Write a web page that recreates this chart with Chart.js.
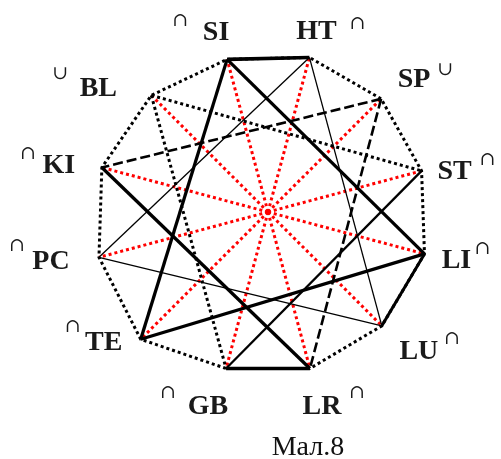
<!DOCTYPE html>
<html>
<head>
<meta charset="utf-8">
<script src="https://cdn.jsdelivr.net/npm/chart.js@4.4.0/dist/chart.umd.min.js"></script>
<style>
  html, body { margin: 0; padding: 0; background: #fff; }
  #wrap { position: relative; width: 501px; height: 459px; }
  #caption {
    position: absolute; left: 208px; top: 432px; width: 200px;
    text-align: center; font: 28px/1 "Liberation Serif", serif; color: #111;
  }
</style>
</head>
<body>
<div id="wrap">
  <canvas id="diagram"></canvas>
  <div id="caption">Мал.8</div>
</div>
<script>
// вершини (за годинниковою стрілкою від SI) та позначки біля них
const names = ['SI', 'HT', 'SP', 'ST', 'LI', 'LU', 'LR', 'GB', 'TE', 'PC', 'KI', 'BL'];
const marks = ['∩', '∩', '∪', '∩', '∩', '∩', '∩', '∩', '∩', '∩', '∩', '∪'];
// відстань вершини від центру (малюнок трохи неправильний)
const vertexRadius = [158, 160, 160, 159, 162, 161, 162, 162, 180, 175, 172, 165];

// сторони многокутника, що не пунктирні
const thickEdges = [['SI', 'HT'], ['LR', 'GB']];
const mediumEdges = [['LI', 'LU']];

// хорди
const thickChords = [['SI', 'TE'], ['SI', 'LI'], ['KI', 'LR'], ['TE', 'LI']];
const mediumChords = [['GB', 'ST']];
const thinChords = [['HT', 'PC'], ['HT', 'LU'], ['PC', 'LU']];
const dashedChords = [['SP', 'KI'], ['SP', 'LR']];
const dottedChords = [['BL', 'ST'], ['BL', 'GB']];

// зсув підпису від вершини і значка від підпису
const labelOffsets = [[-11, -28], [7, -27], [33, -20], [33, 0], [32, 6], [37, 25],
                      [12, 37], [-18, 37], [-37, 2], [-48, 3], [-43, -3], [-53, -8]];
const markOffsets = [[-36, -10], [41, -6], [31, -9], [33, -11], [26, -11], [33, -12],
                     [35, -12], [-40, -12], [-31, -14], [-34, -14], [-31, -10], [-38, -13]];

function vertex(scale, name) {
    const i = names.indexOf(name);
    return scale.getPointPositionForValue(i, vertexRadius[i]);
}

function drawChords(ctx, scale, list, width, dash) {
    ctx.lineWidth = width;
    ctx.setLineDash(dash);
    list.forEach(pair => {
        const a = vertex(scale, pair[0]);
        const b = vertex(scale, pair[1]);
        ctx.beginPath();
        ctx.moveTo(a.x, a.y);
        ctx.lineTo(b.x, b.y);
        ctx.stroke();
    });
}

const diagramPlugin = {
    id: 'diagram',
    beforeDatasetsDraw(chart) {
        const r = chart.scales.r;
        const ctx = chart.ctx;
        ctx.save();
        // червоні радіуси
        ctx.strokeStyle = '#ff0000';
        ctx.lineWidth = 3;
        ctx.setLineDash([3, 3]);
        names.forEach((n, i) => {
            const p = r.getPointPositionForValue(i, vertexRadius[i]);
            ctx.beginPath();
            ctx.moveTo(r.xCenter, r.yCenter);
            ctx.lineTo(p.x, p.y);
            ctx.stroke();
        });

        ctx.strokeStyle = '#000';
        drawChords(ctx, r, dottedChords, 3, [3, 3]);
        drawChords(ctx, r, thinChords, 1.3, []);
        drawChords(ctx, r, dashedChords, 2.6, [10, 4]);
        drawChords(ctx, r, mediumChords, 2.3, []);
        drawChords(ctx, r, thickChords, 3.3, []);
        ctx.restore();
    },
    afterDatasetsDraw(chart) {
        const r = chart.scales.r;
        const ctx = chart.ctx;
        ctx.save();
        ctx.strokeStyle = '#000';
        drawChords(ctx, r, thickEdges, 3.6, []);
        drawChords(ctx, r, mediumEdges, 3, []);
        ctx.restore();
    },
    afterDraw(chart) {
        const r = chart.scales.r;
        const ctx = chart.ctx;
        ctx.save();
        ctx.fillStyle = '#1a1a1a';
        ctx.textBaseline = 'middle';
        ctx.textAlign = 'center';
        names.forEach((n, i) => {
            const p = r.getPointPositionForValue(i, vertexRadius[i]);
            const cx = p.x + labelOffsets[i][0];
            const cy = p.y + labelOffsets[i][1];
            ctx.font = 'bold 28px "Liberation Serif"';
            ctx.fillText(n, cx, cy + 1);
            ctx.font = '19px "DejaVu Serif"';
            ctx.fillText(marks[i], cx + markOffsets[i][0], cy + markOffsets[i][1]);
        });
        ctx.restore();
    }
};

new Chart(document.getElementById('diagram'), {
    type: 'radar',
    data: {
        labels: names,
        datasets: [{
            data: vertexRadius,
            borderColor: '#000',
            borderWidth: 3,
            borderDash: [3, 3],
            fill: false,
            pointRadius: 0,
            clip: false
        }]
    },
    options: {
        responsive: true,
        maintainAspectRatio: false,
        animation: false,
        layout: { padding: { left: 88, right: 53, top: 32, bottom: 67 } },
        plugins: { legend: { display: false }, tooltip: { enabled: false } },
        scales: {
            r: {
                min: 0,
                max: 180,
                startAngle: -15,
                grid: { display: false },
                angleLines: { display: false },
                ticks: { display: false },
                pointLabels: { display: false }
            }
        }
    },
    plugins: [diagramPlugin]
});
</script>
</body>
</html>
